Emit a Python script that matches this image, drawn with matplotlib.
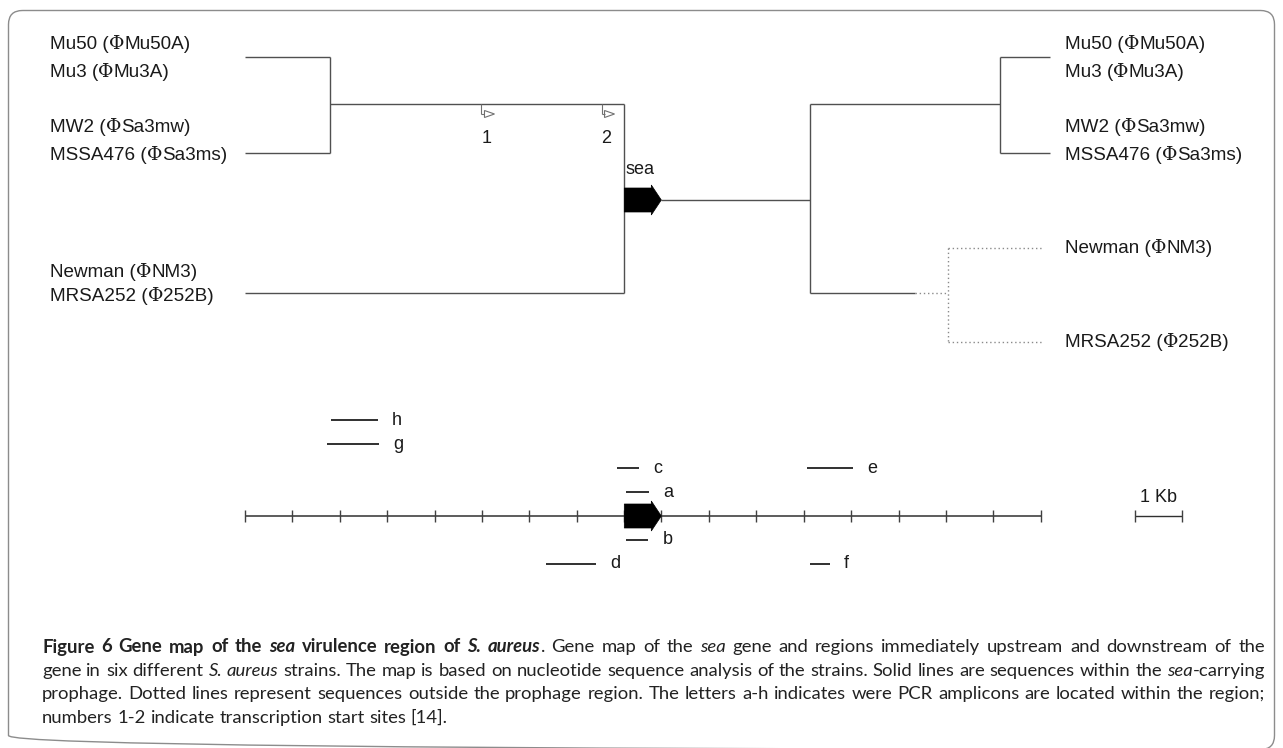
import matplotlib
matplotlib.use("Agg")
import numpy as np
import matplotlib.pyplot as plt
from matplotlib.patches import FancyBboxPatch, Polygon

# ceppi (rami dell'albero) e profagi
strains = ["Mu50", "Mu3", "MW2", "MSSA476", "Newman", "MRSA252"]
phages = ["Mu50A", "Mu3A", "Sa3mw", "Sa3ms", "NM3", "252B"]

# mappa genica in kb
map_len = 16.78
sea_start, sea_end = 8.0, 8.78
tss_kb = [4.99, 7.52]
tss_lab = ["1", "2"]

# ampliconi PCR (kb)
amp_names = ["a", "b", "c", "d", "e", "f", "g", "h"]
amp_start = [8.03, 8.04, 7.85, 6.36, 11.85, 11.91, 1.73, 1.82]
amp_end = [8.52, 8.51, 8.32, 7.40, 12.82, 12.33, 2.84, 2.81]
amp_level = [1, -1, 2, -2, 2, -2, 3, 4]

W, H = 1283, 748
X0, PX = 244.7, 47.45          # pixel di 0 kb, pixel per kb
LC = "#505050"
TC = "#1a1a1a"
LAB = "Liberation Sans"

fig = plt.figure(figsize=(W / 100, H / 100), dpi=100)
ax = fig.add_axes([0, 0, 1, 1])
ax.set_xlim(-X0 / PX, (W - X0) / PX)
ax.set_ylim(H, 0)
ax.axis("off")
pix = fig.add_axes([0, 0, 1, 1])
pix.set_xlim(0, W)
pix.set_ylim(H, 0)
pix.axis("off")
pix.patch.set_alpha(0)
renderer = fig.canvas.get_renderer()


def px(p):
    return p / PX


def seg(x1, y1, x2, y2, **kw):
    kw.setdefault("color", LC)
    kw.setdefault("lw", 1.0)
    ax.plot([x1, x2], [y1, y2], solid_capstyle="butt", **kw)


def gene_arrow(y, body=12, head=15, hl=10):
    xs = sea_end - px(hl)
    pts = [(sea_start, y - body), (xs, y - body), (xs, y - head), (sea_end, y),
           (xs, y + head), (xs, y + body), (sea_start, y + body)]
    ax.add_patch(Polygon(pts, closed=True, fc="black", ec="black", lw=0.5, zorder=3))


def runs_text(x, y, runs, size, color=TC):
    # scrive frammenti consecutivi con font diversi
    for s, fam in runs:
        t = pix.text(x, y, s, fontsize=size, family=fam, color=color, va="center", ha="left")
        x += t.get_window_extent(renderer).width


def strain_label(x, y, i):
    runs_text(x, y, [(strains[i] + " (", LAB), ("\u03a6", "DejaVu Serif"),
                     (phages[i] + ")", LAB)], 13.6)


# --- albero a sinistra ---
seg(0, 57, px(330 - X0), 57)
seg(0, 153, px(330 - X0), 153)
seg(px(330 - X0), 57, px(330 - X0), 153)
seg(px(330 - X0), 104, sea_start, 104)
seg(sea_start, 104, sea_start, 293)
seg(0, 293, sea_start, 293)

# siti di inizio trascrizione
for k, lab in zip(tss_kb, tss_lab):
    seg(k, 104, k, 114, color="#707070", lw=0.8)
    seg(k, 114, k + px(3), 114, color="#707070", lw=0.8)
    ax.add_patch(Polygon([(k + px(3), 110.5), (k + px(13), 114), (k + px(3), 117.5)],
                         closed=True, fc="white", ec="#707070", lw=0.8))
    ax.text(k + px(5), 138, lab, fontsize=13, family=LAB, color=TC, ha="center", va="center")

gene_arrow(200)
ax.text(sea_start + px(1), 169, "sea", fontsize=13, family=LAB, color=TC, ha="left", va="center")

# --- albero a destra ---
xr = px(810 - X0)
xj = px(1000 - X0)
xt = px(1050 - X0)
seg(sea_end, 200, xr, 200)
seg(xr, 104, xr, 293)
seg(xr, 104, xj, 104)
seg(xj, 57, xj, 153)
seg(xj, 57, xt, 57)
seg(xj, 153, xt, 153)
seg(xr, 293, px(915 - X0), 293)
dot = dict(color="#8a8a8a", lw=1.0, ls=(0, (1, 2)))
xd = px(948 - X0)
seg(px(915 - X0), 293, xd, 293, **dot)
seg(xd, 248, xd, 342, **dot)
seg(xd, 248, px(1043 - X0), 248, **dot)
seg(xd, 342, px(1043 - X0), 342, **dot)

left_y = [44, 72, 127, 155, 272, 296]
right_y = [44, 72, 127, 155, 248, 342]
for i in range(len(strains)):
    strain_label(50, left_y[i], i)
    strain_label(1065, right_y[i], i)

# --- scala in kb ---
ya = 516
seg(0, ya, map_len, ya, color="#303030", lw=1.1)
ticks = np.concatenate([np.arange(0, sea_start + 0.01, 1), sea_end + np.arange(0, 8.01, 1)])
for t in ticks:
    seg(t, ya - 6, t, ya + 6, color="#404040", lw=1.0)
gene_arrow(ya)

for n, a, b, lv in zip(amp_names, amp_start, amp_end, amp_level):
    y = ya - 24 * lv
    seg(a, y, b, y, color="#202020", lw=1.3)
    ax.text(b + px(14), y, n, fontsize=13, family=LAB, color=TC, ha="left", va="center")

# barra 1 Kb
sb0 = px(1135 - X0)
seg(sb0, ya, sb0 + 1, ya, color="#303030", lw=1.0)
seg(sb0, ya - 6, sb0, ya + 6, color="#404040", lw=1.0)
seg(sb0 + 1, ya - 6, sb0 + 1, ya + 6, color="#404040", lw=1.0)
ax.text(sb0 + 0.5, 497, "1 Kb", fontsize=13, family=LAB, color=TC, ha="center", va="center")

# --- cornice ---
pix.add_patch(FancyBboxPatch((8.5, 10.5), 1266, 739, boxstyle="round,pad=0,rounding_size=14",
                             fc="none", ec="#8c8c8c", lw=1.0))

# --- didascalia giustificata ---
CF = "Lato"
B, BI, N, I = ("bold", "normal"), ("bold", "italic"), ("normal", "normal"), ("normal", "italic")
caption = [
    [("Figure 6 Gene map of the ", B), ("sea", BI), (" virulence region of ", B), ("S. aureus", BI),
     (". Gene map of the ", N), ("sea", I), (" gene and regions immediately upstream and downstream of the", N)],
    [("gene in six different ", N), ("S. aureus", I),
     (" strains. The map is based on nucleotide sequence analysis of the strains. Solid lines are sequences within the ", N),
     ("sea", I), ("-carrying", N)],
    [("prophage. Dotted lines represent sequences outside the prophage region. The letters a-h indicates were PCR amplicons are located within the region;", N)],
    [("numbers 1-2 indicate transcription start sites [14].", N)],
]
cap_y = [647, 671, 694, 718]
cx0, cx1 = 42, 1265


def measure(s, st, size):
    t = pix.text(0, 0, s, fontsize=size, family=CF, weight=st[0], style=st[1])
    w = t.get_window_extent(renderer).width
    t.remove()
    return w


def split_words(line):
    words = [[]]
    for s, st in line:
        parts = s.split(" ")
        for j, p in enumerate(parts):
            if j > 0:
                words.append([])
            if p:
                words[-1].append((p, st))
    return [w for w in words if w]


# corpo scelto in modo che la riga piu' lunga stia nella larghezza con spazi normali
ref = 12.0
sp_ref = measure("a a", N, ref) - measure("aa", N, ref)
need = []
for line in caption[:3]:
    ww = split_words(line)
    nat = sum(measure(p, st, ref) for w in ww for p, st in w) + sp_ref * (len(ww) - 1)
    need.append(nat)
CS = ref * (cx1 - cx0) / max(need) * 0.995
space_w = measure("a a", N, CS) - measure("aa", N, CS)

for li, (line, y) in enumerate(zip(caption, cap_y)):
    words = split_words(line)
    widths = [[measure(p, st, CS) for p, st in w] for w in words]
    total = sum(sum(w) for w in widths)
    if li < len(caption) - 1:
        gap = (cx1 - cx0 - total) / (len(words) - 1)
    else:
        gap = space_w
    x = cx0
    for w, ws in zip(words, widths):
        for (p, st), wd in zip(w, ws):
            pix.text(x, y, p, fontsize=CS, family=CF, weight=st[0], style=st[1],
                     color="#222222", va="center", ha="left")
            x += wd
        x += gap

fig.savefig("out.png", dpi=100)
